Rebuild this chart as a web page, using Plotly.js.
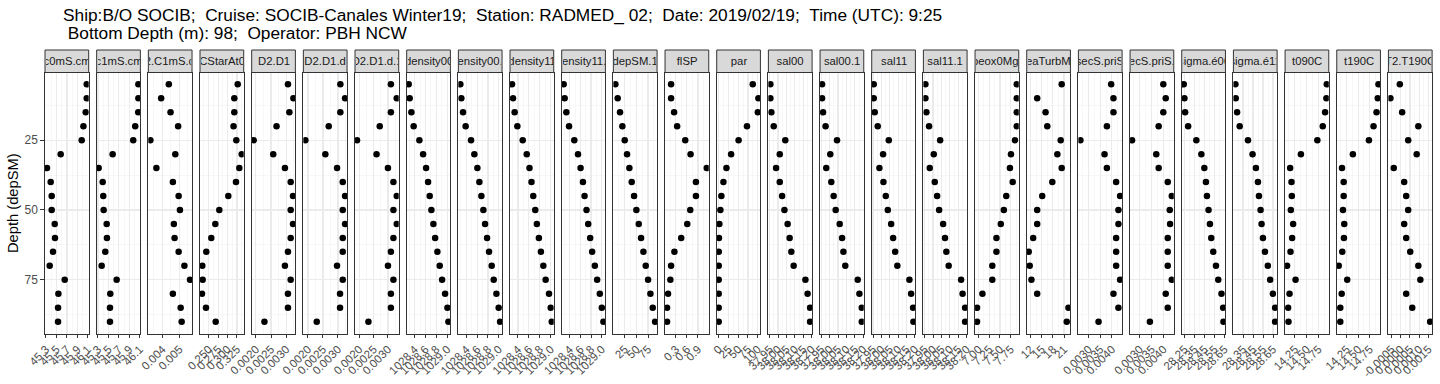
<!DOCTYPE html>
<html>
<head>
<meta charset="utf-8">
<script src="https://cdn.plot.ly/plotly-3.0.1.min.js"></script>
<style>html,body{margin:0;padding:0;background:#fff;}#chart{width:1440px;height:384px;}</style>
</head>
<body>
<div id="chart"></div>
<script>
// ---- data (depth in m) ----
const depth = [5,10,15,20,25,30,35,40,45,50,55,60,65,70,75,80,85,90];

const panelNames = ["c0mS.cm","c1mS.cm","C2.C1mS.cm","CStarAt0","D2.D1","D2.D1.d","D2.D1.d.1",
  "density00","density00.1","density11","density11.1","depSM.1","flSP","par","sal00","sal00.1",
  "sal11","sal11.1","sbeox0Mg.L","seaTurbMtr","secS.priS","secS.priS.1","sigma.é00","sigma.é11",
  "t090C","t190C","T2.T190C"];

const c0mS_cm = [46.079,46.079,46.060,46.016,45.983,45.581,45.319,45.390,45.409,45.409,45.467,45.472,45.434,45.371,45.658,45.537,45.530,45.530];
const c1mS_cm = [46.075,46.075,46.072,46.014,45.976,45.581,45.313,45.390,45.401,45.409,45.467,45.472,45.440,45.371,45.658,45.536,45.530,45.530];
const C2_C1mS_cm = [0.004375,0.003923,0.004477,0.004924,0.003285,0.004757,0.003642,0.004614,0.004954,0.005031,0.004673,0.004715,0.004954,0.005293,0.005627,0.004614,0.005073,0.005132];
const CStarAt0 = [0.3271,0.3181,0.3181,0.3160,0.3234,0.3378,0.3314,0.3226,0.3021,0.2782,0.2676,0.2569,0.2436,0.2330,0.2340,0.2322,0.2428,0.2686];
const D2_D1 = [0.003060,0.003240,0.003107,0.002683,0.001927,0.002573,0.002960,0.003150,0.003227,0.003150,0.003227,0.003150,0.003060,0.002960,0.003150,0.003060,0.003060,0.002283];
const D2_D1_d = [0.003080,0.003237,0.003080,0.002693,0.001913,0.002580,0.002970,0.003160,0.003237,0.003160,0.003237,0.003160,0.003160,0.002970,0.003160,0.003070,0.003070,0.002293];
const D2_D1_d_1 = [0.003102,0.003306,0.003102,0.002714,0.001922,0.002602,0.003000,0.003190,0.003306,0.003190,0.003306,0.003190,0.003102,0.003000,0.003190,0.003102,0.003102,0.002320];
const density00 = [1028.289,1028.307,1028.339,1028.381,1028.487,1028.556,1028.611,1028.648,1028.678,1028.709,1028.746,1028.778,1028.820,1028.863,1028.907,1028.963,1029.006,1029.024];
const density00_1 = [1028.289,1028.307,1028.339,1028.387,1028.487,1028.548,1028.604,1028.641,1028.678,1028.715,1028.746,1028.783,1028.820,1028.869,1028.906,1028.956,1028.998,1029.024];
const density11 = [1028.291,1028.309,1028.339,1028.389,1028.487,1028.561,1028.611,1028.648,1028.680,1028.717,1028.746,1028.783,1028.820,1028.865,1028.907,1028.969,1029.000,1029.019];
const density11_1 = [1028.289,1028.307,1028.339,1028.389,1028.487,1028.556,1028.604,1028.648,1028.678,1028.715,1028.746,1028.783,1028.820,1028.870,1028.913,1028.963,1029.000,1029.030];
const depSM_1 = [5,10,15,20,25,30,35,40,45,50,55,60,65,70,75,80,85,90];
const flSP = [0.170,0.170,0.252,0.335,0.555,0.700,1.140,0.846,0.846,0.692,0.610,0.445,0.261,0.170,0.151,0.087,0.060,0.060];
const par = [87.3,101.8,100.3,72.5,51.0,31.9,19.9,12.2,7.0,4.4,1.8,0.8,0.3,0.2,0.1,0.1,0.1,0.1];
const sal00 = [37.954,37.954,37.960,37.974,38.043,38.010,37.988,38.010,38.024,38.038,38.057,38.069,38.079,38.093,38.163,38.176,38.191,38.191];
const sal00_1 = [37.955,37.955,37.961,37.976,38.044,38.004,37.980,38.010,38.024,38.036,38.060,38.074,38.082,38.093,38.167,38.177,38.191,38.191];
const sal11 = [37.954,37.954,37.960,37.978,38.044,38.010,37.988,38.012,38.026,38.038,38.058,38.070,38.082,38.095,38.167,38.177,38.189,38.191];
const sal11_1 = [37.954,37.954,37.960,37.976,38.042,38.004,37.980,38.010,38.024,38.036,38.060,38.071,38.079,38.093,38.167,38.176,38.191,38.191];
const sbeox0Mg_L = [7.893,7.893,7.893,7.893,7.852,7.757,7.733,7.797,7.647,7.590,7.519,7.417,7.417,7.321,7.321,7.090,6.964,6.964];
const seaTurbMtr = [20.37,13.81,16.05,16.51,20.10,19.21,20.37,17.86,15.16,13.81,13.81,12.73,11.54,11.81,12.27,13.81,22.18,21.72];
const secS_priS = [0.003970,0.004068,0.004068,0.003786,0.002645,0.003684,0.003786,0.004184,0.004355,0.004282,0.004282,0.004184,0.004184,0.004184,0.004355,0.004068,0.004282,0.003427];
const secS_priS_1 = [0.003996,0.004098,0.003996,0.003799,0.002671,0.003697,0.003799,0.004184,0.004355,0.004269,0.004282,0.004184,0.004184,0.004184,0.004355,0.004098,0.004184,0.003427];
const sigma_e00 = [28.243,28.250,28.257,28.287,28.369,28.419,28.449,28.465,28.475,28.491,28.505,28.518,28.538,28.565,28.588,28.620,28.637,28.640];
const sigma_e11 = [28.273,28.276,28.290,28.316,28.399,28.445,28.479,28.499,28.509,28.525,28.535,28.549,28.569,28.598,28.621,28.648,28.671,28.671];
const t090C = [14.927,14.919,14.891,14.842,14.727,14.378,14.150,14.179,14.186,14.165,14.214,14.192,14.158,14.085,14.265,14.137,14.107,14.115];
const t190C = [14.940,14.925,14.898,14.833,14.733,14.385,14.150,14.186,14.186,14.171,14.199,14.192,14.156,14.079,14.263,14.143,14.113,14.113];
const T2_T190C = [-0.000046,-0.000555,0.000079,0.000954,0.000407,0.000866,-0.000374,0.000189,0.000298,0.000407,0.000189,0.000298,0.000516,0.000954,0.001063,0.000298,0.000626,0.001593];

const seriesValues = [c0mS_cm,c1mS_cm,C2_C1mS_cm,CStarAt0,D2_D1,D2_D1_d,D2_D1_d_1,density00,density00_1,
  density11,density11_1,depSM_1,flSP,par,sal00,sal00_1,sal11,sal11_1,sbeox0Mg_L,seaTurbMtr,secS_priS,
  secS_priS_1,sigma_e00,sigma_e11,t090C,t190C,T2_T190C];

// tick values and labels per panel
const tk_c = [45.3,45.5,45.7,45.9,46.1], tl_c = ["45.3","45.5","45.7","45.9","46.1"];
const tk_c2 = [0.004,0.005], tl_c2 = ["0.004","0.005"];
const tk_cs = [0.25,0.275,0.3,0.325], tl_cs = ["0.250","0.275","0.300","0.325"];
const tk_d = [0.002,0.0025,0.003], tl_d = ["0.0020","0.0025","0.0030"];
const tk_den = [1028.4,1028.6,1028.8,1029.0], tl_den = ["1028.4","1028.6","1028.8","1029.0"];
const tk_dep = [25,50,75], tl_dep = ["25","50","75"];
const tk_fl = [0.3,0.6,0.9], tl_fl = ["0.3","0.6","0.9"];
const tk_par = [0,25,50,75,100], tl_par = ["0","25","50","75","100"];
const tk_sal = [37.95,38.00,38.05,38.10,38.15,38.20], tl_sal = ["37.95","38.00","38.05","38.10","38.15","38.20"];
const tk_ox = [7.00,7.25,7.50,7.75], tl_ox = ["7.00","7.25","7.50","7.75"];
const tk_tu = [12,15,18,21], tl_tu = ["12","15","18","21"];
const tk_sec = [0.003,0.0035,0.004], tl_sec = ["0.0030","0.0035","0.0040"];
const tk_s0 = [28.25,28.35,28.45,28.55,28.65], tl_s0 = ["28.25","28.35","28.45","28.55","28.65"];
const tk_s1 = [28.35,28.45,28.55,28.65], tl_s1 = ["28.35","28.45","28.55","28.65"];
const tk_t = [14.25,14.5,14.75], tl_t = ["14.25","14.50","14.75"];
const tk_dt = [-0.0005,0,0.0005,0.001,0.0015], tl_dt = ["-0.0005","0.0000","0.0005","0.0010","0.0015"];

const tickVals = [tk_c,tk_c,tk_c2,tk_cs,tk_d,tk_d,tk_d,tk_den,tk_den,tk_den,tk_den,tk_dep,tk_fl,tk_par,
  tk_sal,tk_sal,tk_sal,tk_sal,tk_ox,tk_tu,tk_sec,tk_sec,tk_s0,tk_s1,tk_t,tk_t,tk_dt];
const tickText = [tl_c,tl_c,tl_c2,tl_cs,tl_d,tl_d,tl_d,tl_den,tl_den,tl_den,tl_den,tl_dep,tl_fl,tl_par,
  tl_sal,tl_sal,tl_sal,tl_sal,tl_ox,tl_tu,tl_sec,tl_sec,tl_s0,tl_s1,tl_t,tl_t,tl_dt];

const yTicks = [25,50,75], yTickText = ["25","50","75"];
const titleLine1 = "Ship:B/O SOCIB;\u00A0\u00A0Cruise: SOCIB-Canales Winter19;\u00A0\u00A0Station: RADMED_ 02;\u00A0\u00A0Date: 2019/02/19;\u00A0\u00A0Time (UTC): 9:25";
const titleLine2 = "\u00A0Bottom Depth (m): 98;\u00A0\u00A0Operator: PBH NCW";
const yTitle = "Depth (depSM)";

// ---- layout geometry (pixels) ----
const W = 1440, H = 384;
const panelLeft0 = 45, pitch = 51.67, panelW = 43.7;
const panelTop = 72.5, panelBottom = 333.5, stripTop = 50;
const FONT = "Liberation Sans, Arial, Helvetica, sans-serif";
const px = v => v / W, py = v => 1 - v / H;

function padRange(arr) {
  const mn = Math.min(...arr), mx = Math.max(...arr), s = mx - mn;
  return [mn - 0.05 * s, mx + 0.05 * s];
}
function minorVals(ticks, r) {
  const s = ticks[1] - ticks[0];
  let v = ticks[0] - s / 2;
  while (v - s >= r[0]) v -= s;
  const out = [];
  for (let k = 0; k < 40 && v <= r[1]; k++, v += s) if (v >= r[0]) out.push(+v.toPrecision(10));
  return out;
}

const yRange = padRange(depth);
const traces = [], layout = {
  width: W, height: H, margin: {l: 0, r: 0, t: 0, b: 0},
  paper_bgcolor: "#FFFFFF", plot_bgcolor: "#FFFFFF", showlegend: false,
  font: {family: FONT, color: "#000000"},
  shapes: [], annotations: []
};

for (let i = 0; i < seriesValues.length; i++) {
  const sfx = i === 0 ? "" : String(i + 1);
  const x0 = panelLeft0 + i * pitch, x1 = x0 + panelW;
  const xr = padRange(seriesValues[i]);
  traces.push({
    type: "scatter", mode: "markers", x: seriesValues[i], y: depth,
    xaxis: "x" + sfx, yaxis: "y" + sfx,
    marker: {color: "#000000", size: 6.5}, cliponaxis: true, hoverinfo: "x+y"
  });
  layout["xaxis" + sfx] = {
    domain: [px(x0), px(x1)], anchor: "y" + sfx, range: xr, fixedrange: true,
    tickmode: "array", tickvals: tickVals[i], ticktext: tickText[i],
    ticks: "outside", ticklen: 3.7, tickwidth: 1, tickcolor: "#333333",
    tickangle: -45, tickfont: {family: FONT, size: 11.5, color: "#4D4D4D"},
    showgrid: true, gridcolor: "#EBEBEB", gridwidth: 1.2, zeroline: false,
    minor: {tickmode: "array", tickvals: minorVals(tickVals[i], xr), showgrid: true,
            gridcolor: "#F2F2F2", gridwidth: 0.6, ticks: ""},
    showline: true, mirror: true, linecolor: "#333333", linewidth: 1
  };
  layout["yaxis" + sfx] = {
    domain: [py(panelBottom), py(panelTop)], anchor: "x" + sfx, range: [yRange[1], yRange[0]],
    fixedrange: true, tickmode: "array", tickvals: yTicks, ticktext: yTickText,
    showticklabels: i === 0, ticks: i === 0 ? "outside" : "", ticklen: 3.7, tickwidth: 1, tickcolor: "#333333",
    tickfont: {family: FONT, size: 12, color: "#4D4D4D"},
    showgrid: true, gridcolor: "#EBEBEB", gridwidth: 1.2, zeroline: false,
    minor: {tickmode: "array", tickvals: [12.5, 37.5, 62.5, 87.5], showgrid: true,
            gridcolor: "#F2F2F2", gridwidth: 0.6, ticks: ""},
    showline: true, mirror: true, linecolor: "#333333", linewidth: 1
  };
  // strip
  layout.shapes.push({type: "rect", xref: "paper", yref: "paper",
    x0: px(x0), x1: px(x1), y0: py(panelTop), y1: py(stripTop),
    fillcolor: "#D9D9D9", line: {color: "#333333", width: 1}, layer: "above"});
  layout.annotations.push({xref: "paper", yref: "paper", x: px((x0 + x1) / 2), y: py((stripTop + panelTop) / 2),
    xanchor: "center", yanchor: "middle", showarrow: false, text: panelNames[i],
    width: panelW - 1.5, height: 18, align: "center", borderpad: 0,
    font: {family: FONT, size: 11.3, color: "#1A1A1A"}});
}

layout.annotations.push({xref: "paper", yref: "paper", x: px(61), y: py(15), xanchor: "left", yanchor: "middle",
  showarrow: false, text: titleLine1, align: "left", font: {family: FONT, size: 17.3, color: "#000000"}});
layout.annotations.push({xref: "paper", yref: "paper", x: px(61), y: py(33), xanchor: "left", yanchor: "middle",
  showarrow: false, text: titleLine2, align: "left", font: {family: FONT, size: 17.3, color: "#000000"}});
layout.annotations.push({xref: "paper", yref: "paper", x: px(13), y: py((panelTop + panelBottom) / 2),
  xanchor: "center", yanchor: "middle", showarrow: false, text: yTitle, textangle: -90,
  font: {family: FONT, size: 14.7, color: "#000000"}});

Plotly.newPlot("chart", traces, layout, {displayModeBar: false, staticPlot: true});
</script>
</body>
</html>
